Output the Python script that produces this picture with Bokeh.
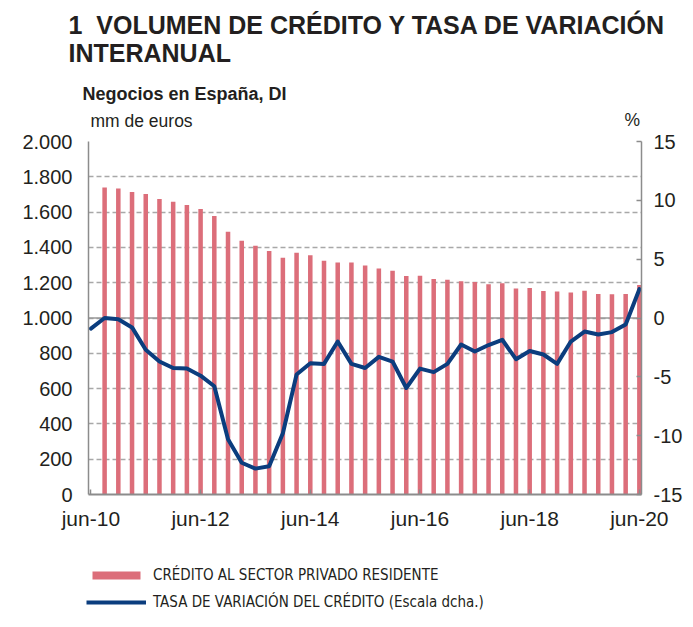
from bokeh.plotting import figure
from bokeh.layouts import column, row
from bokeh.models import (Range1d, LinearAxis, FixedTicker, CustomJSTickFormatter,
                          Span, Legend, LegendItem)
from bokeh.core.properties import value
from bokeh.embed import file_html
from bokeh.resources import INLINE

# ---------------- data ----------------
trimestres = ["jun-10", "sep-10", "dic-10", "mar-11", "jun-11", "sep-11", "dic-11",
              "mar-12", "jun-12", "sep-12", "dic-12", "mar-13", "jun-13", "sep-13",
              "dic-13", "mar-14", "jun-14", "sep-14", "dic-14", "mar-15", "jun-15",
              "sep-15", "dic-15", "mar-16", "jun-16", "sep-16", "dic-16", "mar-17",
              "jun-17", "sep-17", "dic-17", "mar-18", "jun-18", "sep-18", "dic-18",
              "mar-19", "jun-19", "sep-19", "dic-19", "mar-20", "jun-20"]

# Crédito al sector privado residente (mm de euros), sep-10 .. jun-20
credito = [1740, 1734, 1714, 1703, 1674, 1659, 1640, 1618, 1578, 1489,
           1438, 1410, 1380, 1342, 1370, 1355, 1325, 1315, 1315, 1297,
           1281, 1267, 1238, 1240, 1221, 1217, 1208, 1204, 1191, 1197,
           1167, 1170, 1153, 1150, 1144, 1155, 1136, 1134, 1136, 1187]

# Tasa de variación interanual del crédito (%), jun-10 .. jun-20
tasa = [-0.9, 0.0, -0.1, -0.8, -2.7, -3.7, -4.25, -4.3, -4.9, -5.8,
        -10.3, -12.3, -12.8, -12.6, -9.8, -4.8, -3.85, -3.9, -2.0, -3.9,
        -4.25, -3.3, -3.7, -5.95, -4.3, -4.6, -3.9, -2.25, -2.85, -2.3,
        -1.85, -3.5, -2.8, -3.1, -3.9, -2.0, -1.15, -1.4, -1.2, -0.55, 2.45]

ticks_izq = [0, 200, 400, 600, 800, 1000, 1200, 1400, 1600, 1800, 2000]
ticks_dcha = [-15, -10, -5, 0, 5, 10, 15]
etiquetas_x = ["jun-10", "jun-12", "jun-14", "jun-16", "jun-18", "jun-20"]

titulo1 = "1\u00a0 VOLUMEN DE CRÉDITO Y TASA DE VARIACIÓN"
titulo2 = "INTERANUAL"
subtitulo = "Negocios en España, DI"
unidad_izq = "mm de euros"
unidad_dcha = "%"
leyenda_barras = "CRÉDITO AL SECTOR PRIVADO RESIDENTE"
leyenda_linea = "TASA DE VARIACIÓN DEL CRÉDITO (Escala dcha.)"

# ---------------- style ----------------
x_linea = list(range(len(trimestres)))
x_barras = [trimestres.index(t) for t in trimestres[1:]]
x_ticks = [trimestres.index(t) for t in etiquetas_x]

W = 685
H_HEAD = 130
TOP_B, FRAME_H, BOT_B = 11, 353, 40
H_MAIN = TOP_B + FRAME_H + BOT_B
H_LEG = 611 - H_HEAD - H_MAIN
FONT = "Liberation Sans"
NARROW = "'Liberation Sans Narrow', 'DejaVu Sans Condensed', 'Liberation Sans'"
TXT = "#231F20"
AXC = "#8c8c8c"
RED = "#DC6E7A"
BLUE = "#0B3D7E"


def blank(height, **kw):
    f = figure(width=W, height=height, output_backend="svg", toolbar_location=None,
               title=None, min_border=0, x_axis_location=None, y_axis_location=None,
               **kw)
    f.grid.visible = False
    f.outline_line_color = None
    return f


# ---------------- header ----------------
head = blank(H_HEAD, x_range=Range1d(0, W), y_range=Range1d(H_HEAD, 0))
head.text(x=[68, 68], y=[24, 52.3], text=[titulo1, titulo2],
          text_font=value(FONT), text_font_style="bold", text_font_size="25px",
          text_color=TXT, text_baseline="middle")
head.text(x=[82], y=[93], text=[subtitulo], text_font=value(FONT),
          text_font_style="bold", text_font_size="18px", text_color=TXT,
          text_baseline="middle")
head.text(x=[90, 624], y=[120, 119], text=[unidad_izq, unidad_dcha],
          text_font=value(FONT), text_font_size="17.5px", text_color=TXT,
          text_baseline="middle")

# ---------------- main chart ----------------
p = figure(width=W, height=H_MAIN, output_backend="svg", toolbar_location=None,
           title=None,
           x_range=Range1d(-0.175, 40.155), y_range=Range1d(0, 2000),
           min_border_left=88, min_border_right=43, min_border_top=TOP_B,
           min_border_bottom=BOT_B)
p.outline_line_color = None
p.extra_y_ranges = {"pct": Range1d(-15, 15)}

p.xgrid.visible = False
p.ygrid.grid_line_color = "#a8a8a8"
p.ygrid.grid_line_dash = "5 3"
p.ygrid.grid_line_width = 1.3

cero = Span(location=0, dimension="width", y_range_name="pct",
            line_color="#999999", line_width=1.5, level="underlay")
p.add_layout(cero)

yl = p.yaxis[0]
yl.ticker = FixedTicker(ticks=ticks_izq)
yl.formatter = CustomJSTickFormatter(code="""
    if (tick >= 1000) {
        const m = Math.floor(tick / 1000);
        const r = String(Math.round(tick % 1000)).padStart(3, '0');
        return m + '.' + r;
    }
    return String(tick);
""")
yl.major_tick_in = 0
yl.major_tick_out = 0
yl.minor_tick_line_color = None
yl.axis_line_color = AXC
yl.axis_line_width = 1.5
yl.major_label_text_font = FONT
yl.major_label_text_font_size = "20px"
yl.major_label_text_color = TXT
yl.major_label_standoff = 16

yr = LinearAxis(y_range_name="pct", ticker=FixedTicker(ticks=ticks_dcha),
                formatter=CustomJSTickFormatter(code="return String(tick);"))
yr.major_tick_in = 5
yr.major_tick_out = 0
yr.major_tick_line_color = AXC
yr.major_tick_line_width = 1.5
yr.minor_tick_line_color = None
yr.axis_line_color = AXC
yr.axis_line_width = 1.5
yr.major_label_text_font = FONT
yr.major_label_text_font_size = "20px"
yr.major_label_text_color = TXT
yr.major_label_standoff = 12
p.add_layout(yr, "right")

xa = p.xaxis[0]
xa.ticker = FixedTicker(ticks=x_ticks)
xa.formatter = CustomJSTickFormatter(args=dict(labels=trimestres),
                                     code="return labels[Math.round(tick)];")
xa.major_tick_in = 5
xa.major_tick_out = 0
xa.major_tick_line_color = AXC
xa.major_tick_line_width = 1.5
xa.minor_tick_line_color = None
xa.axis_line_color = AXC
xa.axis_line_width = 2
xa.major_label_text_font = FONT
xa.major_label_text_font_size = "21px"
xa.major_label_text_color = TXT
xa.major_label_standoff = 12

p.vbar(x=x_barras, top=credito, bottom=0, width=0.33,
       fill_color=RED, line_color=None)
p.line(x=x_linea, y=tasa, y_range_name="pct", line_color=BLUE,
       line_width=4, line_join="round", line_cap="round")

# ---------------- legend panel ----------------
# same series, kept far outside this panel's visible ranges: only the legend shows
leg = blank(H_LEG, x_range=Range1d(1000, 2000), y_range=Range1d(50000, 60000))
sw_bar = leg.vbar(x=x_barras, top=credito, bottom=0, width=0.33,
                  fill_color=RED, line_color=None)
sw_line = leg.line(x=x_linea, y=tasa, line_color=BLUE, line_width=4)
legend = Legend(items=[LegendItem(label=leyenda_barras, renderers=[sw_bar]),
                       LegendItem(label=leyenda_linea, renderers=[sw_line])],
                location=(86, 0), orientation="vertical",
                glyph_width=60, glyph_height=10, label_height=18, spacing=9,
                padding=0, margin=0, border_line_color=None,
                background_fill_alpha=0, label_standoff=7,
                label_text_font=NARROW,
                label_text_font_size="15px", label_text_color=TXT)
leg.add_layout(legend)

layout = column(row(head), row(p), row(leg), spacing=0)
open("out.html", "w").write(file_html(layout, INLINE))
